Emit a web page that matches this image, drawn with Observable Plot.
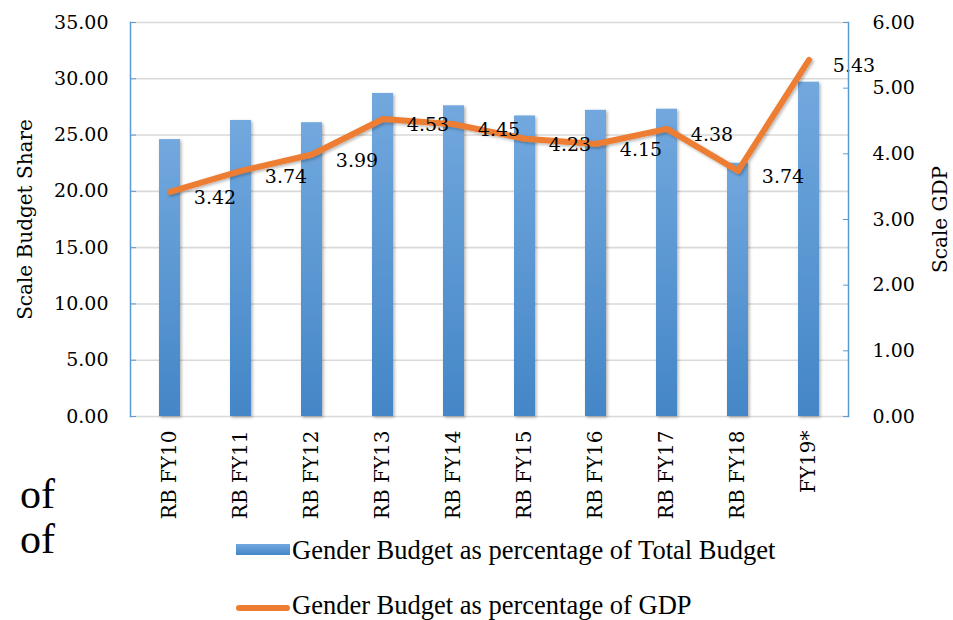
<!DOCTYPE html>
<html>
<head>
<meta charset="utf-8">
<script src="https://cdn.jsdelivr.net/npm/d3@7"></script>
<script src="https://cdn.jsdelivr.net/npm/@observablehq/plot@0.6"></script>
<style>
  html, body { margin: 0; padding: 0; background: #fff; }
  #wrap { position: relative; width: 953px; height: 620px; overflow: hidden; }
  #wrap svg text { font-family: "DejaVu Serif", serif; }
  .leg { position: absolute; font-family: "Liberation Serif", serif; color: #000; white-space: nowrap; line-height: 1.1; }
  .sw1 { position: absolute; left: 236px; top: 544px; width: 54px; height: 11px;
         background: linear-gradient(to bottom, #72a8de, #4486c7); }
  .sw2 { position: absolute; left: 236px; top: 605px; width: 54px; height: 6px; border-radius: 3px; background: #ed7d31; }
  .of { position: absolute; left: 20px; font-family: "Liberation Serif", serif; font-size: 42px; color: #000; }
</style>
</head>
<body>
<div id="wrap"></div>
<script>
const categories = ["RB FY10", "RB FY11", "RB FY12", "RB FY13", "RB FY14", "RB FY15", "RB FY16", "RB FY17", "RB FY18", "FY19*"];
const budgetShare = [24.6, 26.3, 26.1, 28.7, 27.6, 26.7, 27.2, 27.3, 22.5, 29.7];
const gdpShare = [3.42, 3.74, 3.99, 4.53, 4.45, 4.23, 4.15, 4.38, 3.74, 5.43];
const leftTicks = [0, 5, 10, 15, 20, 25, 30, 35];
const rightTicks = [0, 1, 2, 3, 4, 5, 6];
const leftMax = 35, rightMax = 6;
const k = leftMax / rightMax;

const rows = categories.map((c, i) => ({cat: c, share: budgetShare[i], gdp: gdpShare[i], gdpScaled: gdpShare[i] * k}));

const serif = "DejaVu Serif";

const chart = Plot.plot({
  width: 953,
  height: 620,
  marginTop: 22,
  marginBottom: 204,
  marginLeft: 130,
  marginRight: 105,
  style: {fontFamily: serif, fontSize: "19px", background: "transparent", color: "#000"},
  x: {domain: categories, paddingInner: 0.7, paddingOuter: 0.35, label: null},
  y: {domain: [0, leftMax], label: null},
  marks: [
    Plot.ruleY(leftTicks, {stroke: "#d9d9d9", strokeWidth: 1.6}),
    Plot.barY(rows, {x: "cat", y: "share", fill: "url(#barGrad)"}),
    Plot.line(rows, {x: "cat", y: "gdpScaled", stroke: "#ed7d31", strokeWidth: 6, strokeLinecap: "round", strokeLinejoin: "round"}),
    Plot.text(rows, {x: "cat", y: "gdpScaled", text: d => d.gdp.toFixed(2), dx: 45, dy: 6, fontSize: 19, fontFamily: serif, fill: "#000"}),
    Plot.frame({anchor: "left", stroke: "#5b9bd5", strokeWidth: 1.5}),
    Plot.frame({anchor: "right", stroke: "#5b9bd5", strokeWidth: 1.5}),
    Plot.axisY({anchor: "left", ticks: leftTicks, tickFormat: d => d.toFixed(2), tickSize: 6, dx: 6, tickPadding: 22, stroke: "#5b9bd5", fill: "#000", fontSize: 19, fontFamily: serif, label: null}),
    Plot.axisY({anchor: "right", ticks: rightTicks.map(v => v * k), tickFormat: v => (v / k).toFixed(2), tickSize: 6, dx: -6, tickPadding: 24, stroke: "#5b9bd5", fill: "#000", fontSize: 19, fontFamily: serif, label: null}),
    Plot.axisX({tickRotate: -90, tickSize: 0, tickPadding: 14, fontSize: 20, fontFamily: serif, fill: "#000", label: null}),
    Plot.text(["Scale Budget Share"], {frameAnchor: "left", textAnchor: "middle", rotate: -90, dx: -105, fontSize: 20, fontFamily: serif, fill: "#000"}),
    Plot.text(["Scale GDP"], {frameAnchor: "right", textAnchor: "middle", rotate: -90, dx: 92, fontSize: 20, fontFamily: serif, fill: "#000"})
  ]
});

// gradient & shadow definitions
const svg = d3.select(chart);
const defs = svg.insert("defs", ":first-child");
const g = defs.append("linearGradient").attr("id", "barGrad").attr("x1", 0).attr("x2", 0).attr("y1", 0).attr("y2", 1);
g.append("stop").attr("offset", "0%").attr("stop-color", "#72a8de");
g.append("stop").attr("offset", "100%").attr("stop-color", "#4486c7");
const f = defs.append("filter").attr("id", "shadow").attr("x", "-20%").attr("y", "-20%").attr("width", "140%").attr("height", "140%");
f.append("feDropShadow").attr("dx", 1.5).attr("dy", 1.5).attr("stdDeviation", 1.5).attr("flood-color", "#000").attr("flood-opacity", 0.3);
svg.selectAll("g[aria-label='bar'] rect, g[aria-label='line'] path").attr("filter", "url(#shadow)");

const wrap = document.getElementById("wrap");
wrap.appendChild(chart);
wrap.insertAdjacentHTML("beforeend", `
  <div class="of" style="top:470px">of</div>
  <div class="of" style="top:515px">of</div>
  <div class="sw1"></div>
  <div class="leg" style="left:292px; top:536px; font-size:26.5px;">Gender Budget as percentage of Total Budget</div>
  <div class="sw2"></div>
  <div class="leg" style="left:292px; top:591px; font-size:26.5px;">Gender Budget as percentage of GDP</div>
`);
</script>
</body>
</html>
